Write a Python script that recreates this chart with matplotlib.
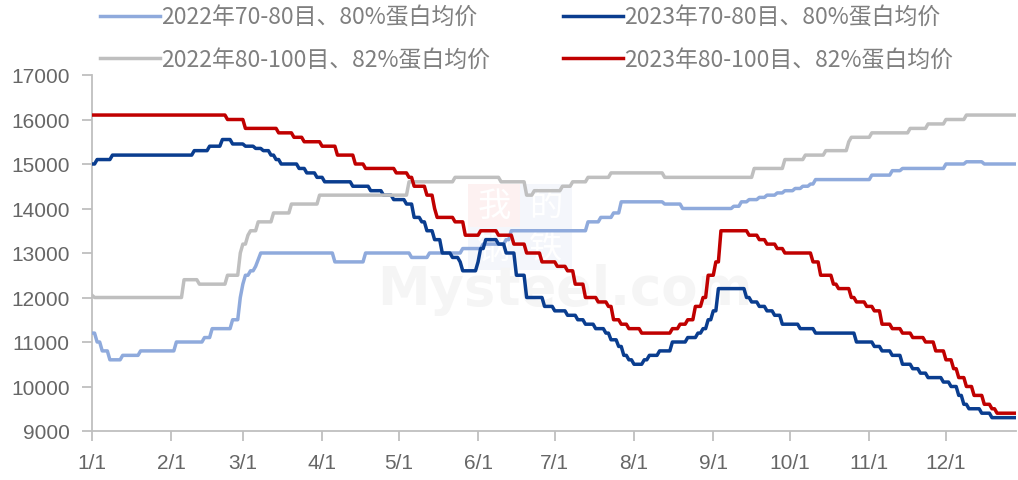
import matplotlib
matplotlib.use("Agg")
import matplotlib.pyplot as plt
from matplotlib.patches import Rectangle
import pandas as pd

# ---------------- data (change points: date -> price) ----------------
END_DATE = "12-28"

s22_7080_dates = ["01-01", "01-03", "01-05", "01-08", "01-13", "01-20", "02-03", "02-14", "02-17",
                  "02-25", "02-28", "03-01", "03-02", "03-04", "03-06", "03-07", "03-08", "04-06",
                  "04-18", "05-06", "05-13", "05-26", "06-03", "06-12", "06-14", "07-14", "07-19",
                  "07-24", "07-27", "08-13", "08-20", "09-09", "09-12", "09-15", "09-19", "09-22",
                  "09-26", "09-29", "10-03", "10-06", "10-09", "10-11", "11-02", "11-10", "11-14",
                  "12-01", "12-09", "12-16"]
s22_7080_vals = [11200, 11000, 10800, 10600, 10700, 10800, 11000, 11100, 11300,
                 11500, 12000, 12300, 12500, 12600, 12700, 12850, 13000, 12800,
                 13000, 12900, 13000, 13100, 13200, 13300, 13500, 13700, 13800,
                 13900, 14150, 14100, 14000, 14050, 14150, 14200, 14250, 14300,
                 14350, 14400, 14450, 14500, 14550, 14650, 14750, 14850, 14900,
                 15000, 15050, 15000]

s23_7080_dates = ["01-01", "01-03", "01-09", "02-10", "02-16", "02-21", "02-25", "03-02", "03-06",
                  "03-09", "03-12", "03-14", "03-16", "03-23", "03-26", "03-30", "04-02", "04-13",
                  "04-20", "04-25", "04-29", "05-04", "05-07", "05-10", "05-12", "05-15", "05-18",
                  "05-22", "05-25", "05-26", "06-01", "06-02", "06-04", "06-09", "06-12", "06-16",
                  "06-20", "06-27", "07-01", "07-06", "07-10", "07-13", "07-17", "07-21", "07-23",
                  "07-26", "07-28", "07-30", "08-01", "08-05", "08-07", "08-11", "08-16", "08-22",
                  "08-26", "08-28", "08-30", "09-01", "09-03", "09-14", "09-16", "09-19", "09-22",
                  "09-25", "09-28", "10-05", "10-11", "10-27", "11-03", "11-06", "11-10", "11-14",
                  "11-18", "11-21", "11-24", "11-30", "12-03", "12-06", "12-08", "12-10", "12-15",
                  "12-19"]
s23_7080_vals = [15000, 15100, 15200, 15300, 15400, 15550, 15450, 15400, 15350,
                 15300, 15200, 15100, 15000, 14900, 14800, 14700, 14600, 14500,
                 14400, 14300, 14200, 14100, 13800, 13700, 13500, 13300, 13000,
                 12900, 12800, 12600, 12800, 13100, 13300, 13200, 13000, 12500,
                 12000, 11800, 11700, 11600, 11500, 11400, 11300, 11200, 11050,
                 10900, 10700, 10600, 10500, 10600, 10700, 10800, 11000, 11100,
                 11200, 11300, 11500, 11700, 12200, 12000, 11900, 11800, 11700,
                 11600, 11400, 11300, 11200, 11000, 10900, 10800, 10700, 10500,
                 10400, 10300, 10200, 10100, 10000, 9800, 9600, 9500, 9400,
                 9300]

s22_80100_dates = ["01-01", "01-02", "02-06", "02-12", "02-23", "02-28", "03-01", "03-03", "03-04",
                   "03-07", "03-13", "03-20", "03-31", "05-05", "05-23", "06-10", "06-20", "06-23",
                   "07-04", "07-08", "07-14", "07-23", "08-13", "09-17", "09-29", "10-07", "10-15",
                   "10-24", "10-25", "11-02", "11-17", "11-24", "12-01", "12-09"]
s22_80100_vals = [12050, 12000, 12400, 12300, 12500, 13000, 13200, 13400, 13500,
                  13700, 13900, 14100, 14300, 14600, 14700, 14600, 14300, 14400,
                  14500, 14600, 14700, 14800, 14700, 14900, 15100, 15200, 15300,
                  15500, 15600, 15700, 15800, 15900, 16000, 16100]

s23_80100_dates = ["01-01", "02-23", "03-02", "03-15", "03-21", "03-25", "04-01", "04-07", "04-14",
                   "04-18", "04-30", "05-05", "05-07", "05-12", "05-15", "05-16", "05-23", "05-27",
                   "06-02", "06-09", "06-15", "06-20", "06-26", "07-02", "07-06", "07-09", "07-13",
                   "07-18", "07-22", "07-24", "07-27", "07-30", "08-04", "08-16", "08-19", "08-22",
                   "08-25", "08-28", "08-30", "09-02", "09-04", "09-15", "09-19", "09-22", "09-26",
                   "09-29", "10-10", "10-13", "10-18", "10-20", "10-25", "10-27", "10-31", "11-03",
                   "11-06", "11-10", "11-14", "11-18", "11-23", "11-27", "12-01", "12-04", "12-06",
                   "12-09", "12-12", "12-16", "12-19", "12-21"]
s23_80100_vals = [16100, 16000, 15800, 15700, 15600, 15500, 15400, 15200, 15000,
                  14900, 14800, 14700, 14500, 14300, 14000, 13800, 13700, 13400,
                  13500, 13400, 13200, 13000, 12800, 12700, 12600, 12300, 12000,
                  11900, 11800, 11500, 11400, 11300, 11200, 11300, 11400, 11500,
                  11800, 12000, 12500, 12800, 13500, 13400, 13300, 13200, 13100,
                  13000, 12800, 12500, 12300, 12200, 12000, 11900, 11800, 11700,
                  11400, 11300, 11200, 11100, 11000, 10800, 10600, 10400, 10200,
                  10000, 9800, 9600, 9500, 9400]

series_labels = ["2022年70-80目、80%蛋白均价", "2023年70-80目、80%蛋白均价",
                 "2022年80-100目、82%蛋白均价", "2023年80-100目、82%蛋白均价"]
tick_labels = ["1/1", "2/1", "3/1", "4/1", "5/1", "6/1", "7/1", "8/1", "9/1", "10/1", "11/1", "12/1"]
y_ticks = [9000, 10000, 11000, 12000, 13000, 14000, 15000, 16000, 17000]

# ---------------- helpers ----------------
YEAR = "2023"
start = pd.Timestamp(f"{YEAR}-01-01")
end = pd.Timestamp(f"{YEAR}-{END_DATE}")
daily = pd.date_range(start, end, freq="D")


def daily_series(dates, vals):
    idx = pd.to_datetime([f"{YEAR}-{d}" for d in dates])
    s = pd.Series(vals, index=idx).reindex(daily).ffill()
    x = (s.index - start).days
    return x, s.values


plt.rcParams["font.family"] = ["Noto Sans CJK SC", "DejaVu Sans"]

fig = plt.figure(figsize=(10.18, 4.81), dpi=100)
ax = fig.add_axes([92 / 1018, 1 - 432 / 481, (1016 - 92) / 1018, (432 - 76) / 481])

colors = ["#8FAADC", "#0A3D8F", "#BFBFBF", "#C00000"]
data = [(s22_7080_dates, s22_7080_vals), (s23_7080_dates, s23_7080_vals),
        (s22_80100_dates, s22_80100_vals), (s23_80100_dates, s23_80100_vals)]
handles = []
for (d, v), c, lab in zip(data, colors, series_labels):
    x, y = daily_series(d, v)
    h, = ax.plot(x, y, color=c, lw=2.5, label=lab, solid_joinstyle="round", zorder=3)
    handles.append(h)

# axes styling
ax.set_ylim(9000, 17000)
ax.set_xlim(0, (end - start).days + 0.4)
ax.set_yticks(y_ticks)
ax.set_yticklabels([str(v) for v in y_ticks])
month_starts = pd.date_range(start, periods=12, freq="MS")
ax.set_xticks((month_starts - start).days)
ax.set_xticklabels(tick_labels)
for side in ["top", "right"]:
    ax.spines[side].set_visible(False)
for side in ["left", "bottom"]:
    ax.spines[side].set_color("#BFBFBF")
    ax.spines[side].set_linewidth(1.3)
ax.tick_params(axis="both", colors="#BFBFBF", length=7, width=1.3, direction="out",
               labelcolor="#666666", labelsize=15)
ax.tick_params(axis="y", pad=9)
ax.tick_params(axis="x", pad=9)
for lbl in ax.get_xticklabels() + ax.get_yticklabels():
    lbl.set_fontfamily(["Liberation Sans", "DejaVu Sans"])

# faint watermark (inside the axes, beneath the lines)
wm_boxes = [(468, 185, "#FDF1F1", "我"), (520, 185, "#F4F6FB", "的"),
            (468, 228, "#F4F6FB", "钢"), (520, 228, "#F4F6FB", "铁")]
for px, py, fc, ch in wm_boxes:
    ax.add_patch(Rectangle((px / 1018, 1 - (py + 43) / 481), 52 / 1018, 43 / 481,
                           transform=fig.transFigure, facecolor=fc, edgecolor="none", zorder=0.5))
    ax.text((px + 26) / 1018, 1 - (py + 21) / 481, ch, color="white", fontsize=24,
            ha="center", va="center", transform=fig.transFigure, zorder=0.6)
ax.text(565 / 1018, 1 - 290 / 481, "Mysteel.com", color="#F5F5F5", fontsize=38,
        fontweight="bold", ha="center", va="center", family="DejaVu Sans",
        transform=fig.transFigure, zorder=0.7)

# legend
order = [0, 2, 1, 3]
leg = fig.legend([handles[i] for i in order], [series_labels[i] for i in order],
                 ncol=2, loc="upper left", bbox_to_anchor=(100 / 1018, 1 - 7 / 481),
                 frameon=False, fontsize=16.5, handlelength=2.6, handletextpad=0.05,
                 columnspacing=3.2, labelspacing=0.85, borderpad=0, borderaxespad=0)
for t in leg.get_texts():
    t.set_color("#7F7F7F")

fig.savefig("out.png", dpi=100)
